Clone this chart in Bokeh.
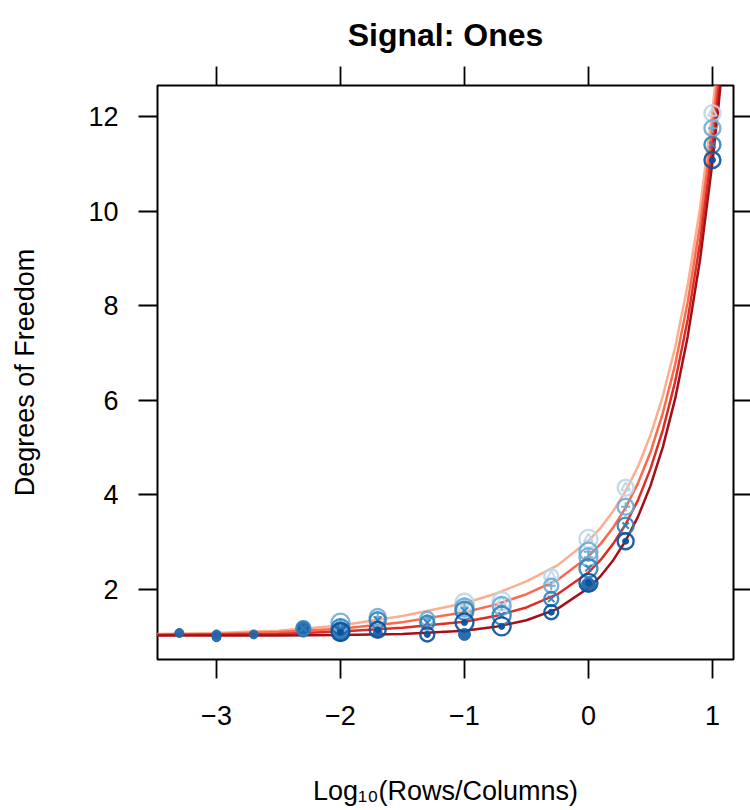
from bokeh.plotting import figure
from bokeh.models import Range1d, FixedTicker, LinearAxis
from bokeh.embed import file_html
from bokeh.resources import INLINE

FONT = "Liberation Sans"

# ---- tick definitions ----
x_ticks = [-3, -2, -1, 0, 1]
x_tick_labels = ["\u22123", "\u22122", "\u22121", "0", "1"]
y_ticks = [2, 4, 6, 8, 10, 12]
y_tick_labels = ["2", "4", "6", "8", "10", "12"]

# ---- fitted curves ----
curve_x = [-3.48, -3.0, -2.5, -2.0, -1.5, -1.0, -0.75, -0.5, -0.25, 0.0, 0.1, 0.2,
           0.3, 0.4, 0.5, 0.6, 0.7, 0.8, 0.9, 1.0, 1.05, 1.1]
curve_1 = [1.06, 1.08, 1.13, 1.24, 1.44, 1.71, 1.91, 2.17, 2.51, 3.03, 3.31, 3.66,
           4.08, 4.60, 5.26, 6.09, 7.12, 8.43, 10.06, 12.13, 13.35, 14.72]
curve_2 = [1.05, 1.06, 1.10, 1.17, 1.31, 1.52, 1.68, 1.90, 2.20, 2.70, 2.97, 3.31,
           3.73, 4.25, 4.90, 5.73, 6.76, 8.07, 9.70, 11.76, 12.98, 14.35]
curve_3 = [1.04, 1.05, 1.06, 1.11, 1.19, 1.32, 1.44, 1.62, 1.90, 2.36, 2.63, 2.97,
           3.38, 3.89, 4.55, 5.37, 6.40, 7.70, 9.33, 11.40, 12.62, 13.99]
curve_4 = [1.03, 1.03, 1.03, 1.04, 1.06, 1.13, 1.21, 1.35, 1.59, 2.03, 2.29, 2.62,
           3.03, 3.54, 4.19, 5.01, 6.04, 7.34, 8.97, 11.03, 12.25, 13.62]
curve_colors = ["#fcae91", "#fb6a4a", "#de2d26", "#a50f15"]

# ---- observed points, four groups ----
g1_x = [1, 0.3, 0, -0.3, -0.7, -1]
g1_y = [12.07, 4.15, 3.07, 2.28, 1.75, 1.72]
g1_s = [16, 16, 18, 14, 18, 18]

g2_x = [1, 0.3, 0, 0, -0.3, -0.7, -1, -1.3, -1.7, -2]
g2_y = [11.75, 3.75, 2.80, 2.68, 2.08, 1.65, 1.62, 1.38, 1.42, 1.30]
g2_s = [16, 16, 18, 18, 14, 18, 18, 14, 16, 18]

g3_x = [1, 0.3, 0, -0.3, -0.7, -1, -1.3, -1.7, -2, -2.3]
g3_y = [11.40, 3.35, 2.45, 1.80, 1.45, 1.55, 1.30, 1.35, 1.18, 1.18]
g3_s = [16, 16, 18, 14, 18, 18, 14, 16, 18, 14]

g4_x = [1, 0.3, 0, -0.3, -0.7, -1, -1.3, -1.7, -2]
g4_y = [11.08, 3.02, 2.14, 1.52, 1.22, 1.30, 1.05, 1.15, 1.10]
g4_s = [16, 16, 18, 14, 18, 18, 14, 16, 18]

solid_x = [-3.3, -3, -3, -2.7, -2.3, -2.3, -2, -2, -1.7, -1, 0]
solid_y = [1.08, 1.05, 0.99, 1.05, 1.20, 1.12, 1.15, 1.05, 1.08, 1.05, 2.10]
solid_s = [9, 9, 9, 9, 12, 12, 16, 14, 9, 12, 14]

point_colors = ["#bdd7e7", "#6baed6", "#3182bd", "#08519c"]
inner_markers = ["triangle", "cross", "x", "dot"]

p = figure(width=750, height=810,
           x_range=Range1d(-3.476, 1.17), y_range=Range1d(0.52, 12.655),
           output_backend="svg", toolbar_location=None,
           min_border_left=157, min_border_right=17,
           min_border_top=85, min_border_bottom=151)
p.grid.visible = False
p.outline_line_color = "black"
p.outline_line_width = 2
p.background_fill_color = "white"
p.border_fill_color = "white"

p.title.text = "Signal: Ones"
p.title.align = "center"
p.title.text_font = FONT
p.title.text_font_size = "32px"
p.title.text_font_style = "bold"
p.title.text_color = "black"
p.title.standoff = 28


def style_axis(ax, ticks, labels, show, tick_out, standoff):
    ax.ticker = FixedTicker(ticks=ticks)
    ax.axis_line_color = None
    ax.major_tick_in = 0
    ax.major_tick_out = tick_out
    ax.major_tick_line_width = 1.8
    ax.major_tick_line_color = "black"
    ax.minor_tick_line_color = None
    ax.major_label_standoff = standoff
    ax.major_label_text_font = FONT
    ax.major_label_text_font_size = "27px"
    ax.major_label_text_color = "black"
    if show:
        ax.major_label_overrides = dict(zip(ticks, labels))
    else:
        ax.major_label_overrides = {t: "" for t in ticks}


bottom_ax = p.below[0]
left_ax = p.left[0]
style_axis(bottom_ax, x_ticks, x_tick_labels, True, 19, 27)
style_axis(left_ax, y_ticks, y_tick_labels, True, 19, 20)

bottom_ax.axis_label = "Log\u2081\u2080(Rows/Columns)"
bottom_ax.axis_label_text_font = FONT
bottom_ax.axis_label_text_font_size = "27px"
bottom_ax.axis_label_text_font_style = "normal"
bottom_ax.axis_label_text_color = "black"
bottom_ax.axis_label_standoff = 48

left_ax.axis_label = "Degrees of Freedom"
left_ax.axis_label_text_font = FONT
left_ax.axis_label_text_font_size = "27px"
left_ax.axis_label_text_font_style = "normal"
left_ax.axis_label_text_color = "black"
left_ax.axis_label_standoff = 45

top_ax = LinearAxis()
right_ax = LinearAxis()
style_axis(top_ax, x_ticks, x_tick_labels, False, 19, 0)
style_axis(right_ax, y_ticks, y_tick_labels, False, 17, 0)
p.add_layout(top_ax, "above")
p.add_layout(right_ax, "right")

# curves
for cy, col in zip([curve_1, curve_2, curve_3, curve_4], curve_colors):
    p.line(curve_x, cy, line_color=col, line_width=2.5)

# solid dots
p.scatter(solid_x, solid_y, size=solid_s, marker="circle",
          fill_color="#2166ac", line_color="#2166ac", alpha=0.95)

groups = [(g1_x, g1_y, g1_s), (g2_x, g2_y, g2_s), (g3_x, g3_y, g3_s), (g4_x, g4_y, g4_s)]
for (gx, gy, gs), col, mk in zip(groups, point_colors, inner_markers):
    p.scatter(gx, gy, size=gs, marker="circle", fill_color=None,
              line_color=col, line_width=2.4, alpha=0.9)
    if mk == "dot":
        p.scatter(gx, gy, size=6, marker="circle", fill_color=col,
                  line_color=col, alpha=0.95)
    else:
        p.scatter(gx, gy, size=9, marker=mk, fill_color=None,
                  line_color=col, line_width=2, alpha=0.95)

open("out.html", "w").write(file_html(p, INLINE))
